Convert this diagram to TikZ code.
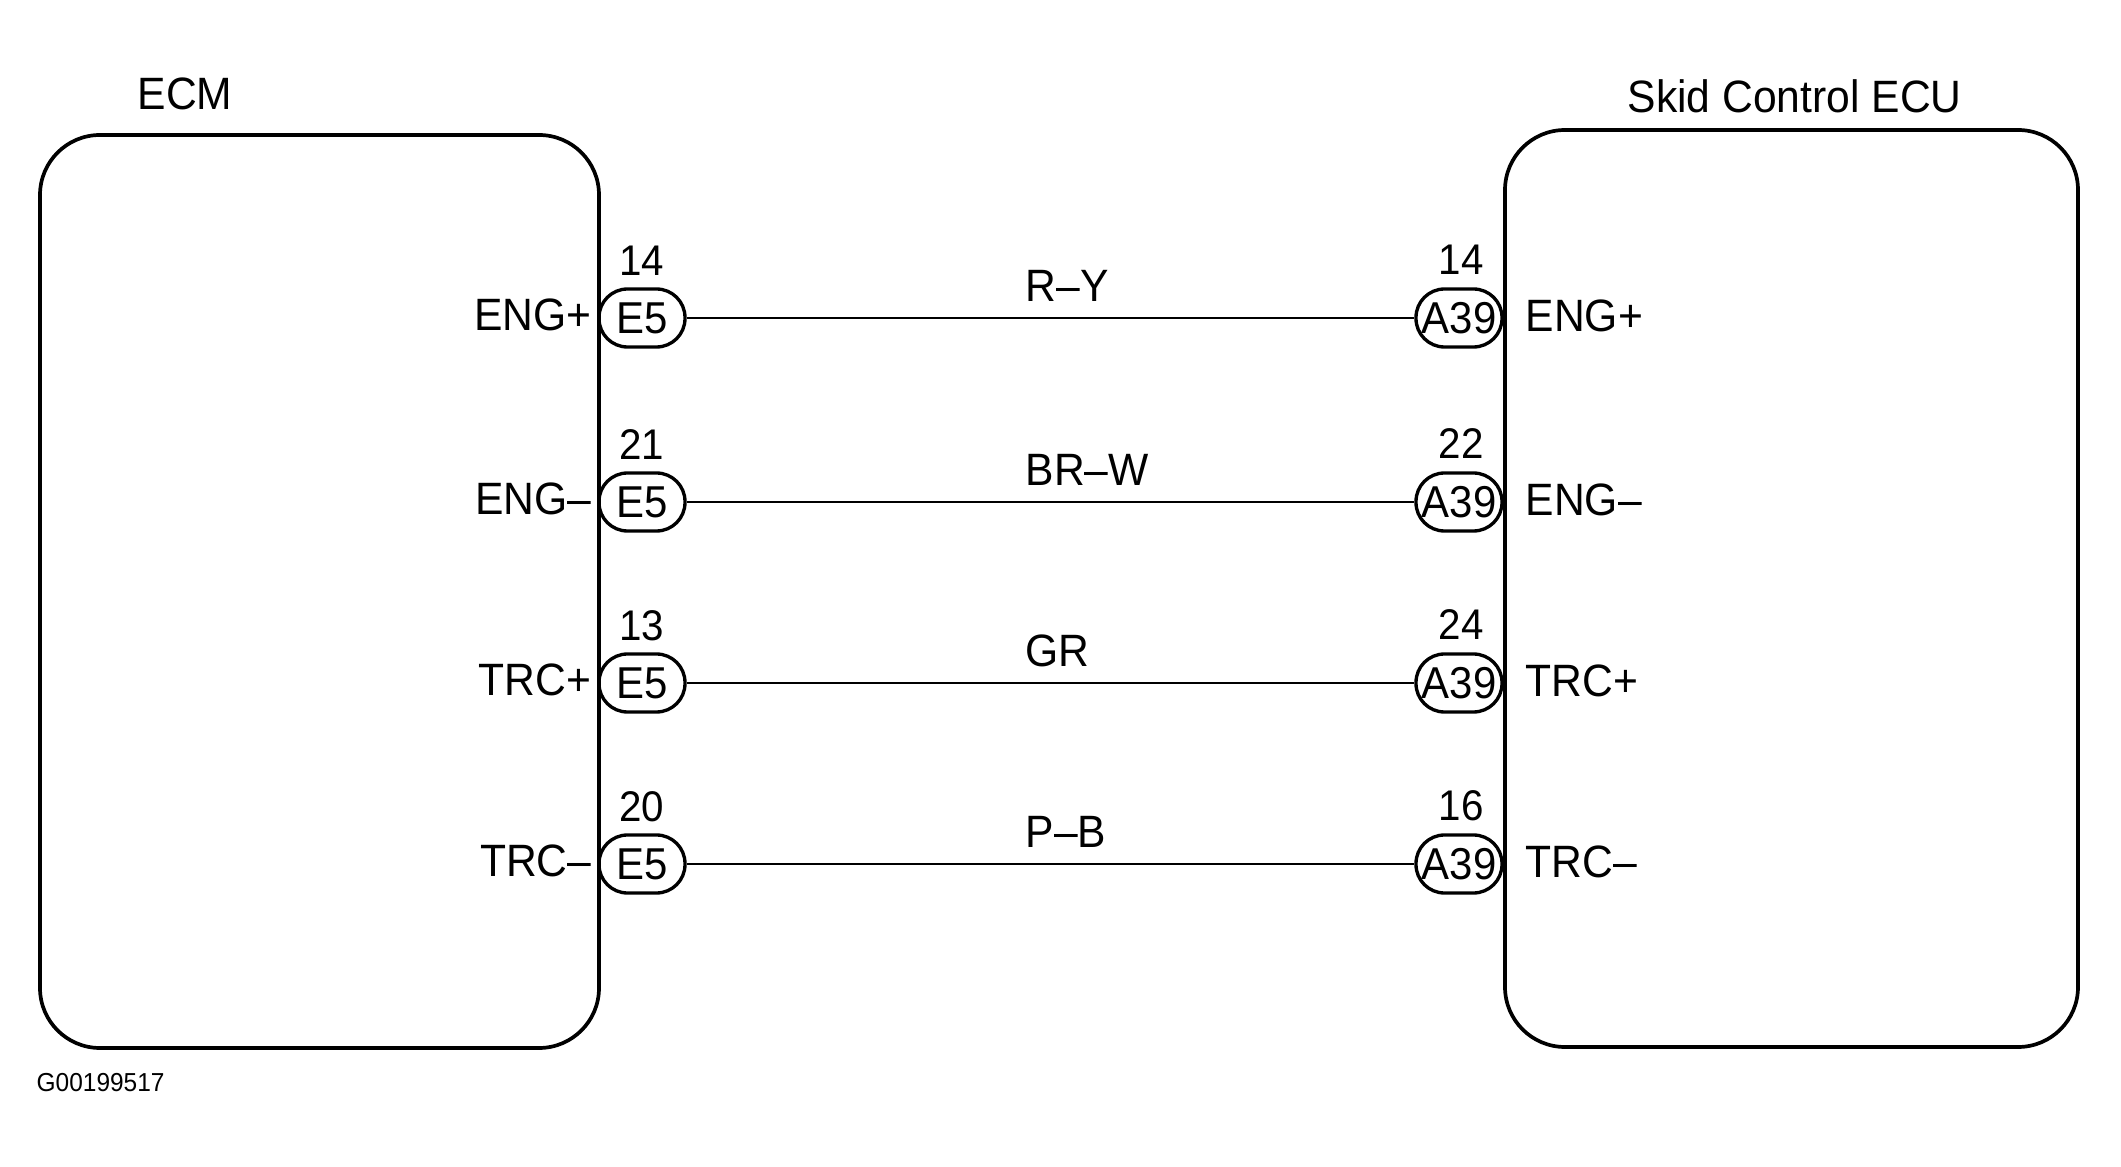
\documentclass[tikz,border=0pt]{standalone}
\usepackage{fontspec}
\setmainfont{Liberation Sans}[FakeStretch=0.94]
\usetikzlibrary{positioning}

\begin{document}
\begin{tikzpicture}[
            ecu/.style={draw, line width=1.05pt, rounded corners=0.6cm, inner sep=0pt},
            plug/.style={draw, line width=0.95pt, rounded corners=0.285cm, minimum width=0.86cm, minimum height=0.58cm, inner sep=0pt, font=\fontsize{12.7}{14}\selectfont},
            pin/.style={inner sep=0pt, font=\fontsize{12.2}{14}\selectfont},
            sig/.style={inner sep=0pt, font=\fontsize{12.9}{14}\selectfont},
            wire/.style={line width=0.7pt}
        ]
            \useasboundingbox (0,0) rectangle (21.21,-11.67);

            % Control units
            \node[ecu, minimum width=5.59cm, minimum height=9.13cm] (ecm) at (3.195,-5.915) {};
            \node[ecu, minimum width=5.73cm, minimum height=9.17cm] (skid) at (17.915,-5.885) {};
            \node[sig, anchor=base west] (ecmtitle) at (1.37,-1.10) {ECM};
            \node[sig, anchor=base west] (skidtitle) at (16.27,-1.13) {Skid Control ECU};

            % Connectors, pins and wires
            \foreach \y/\lpin/\rpin/\name/\col [count=\i] in
                {-3.18/14/14/ENG+/R--Y, -5.02/21/22/ENG--/BR--W, -6.83/13/24/TRC+/GR, -8.64/20/16/TRC--/P--B}
            {
                \node[plug] (e\i) at (6.42,\y) {E5};
                \node[plug] (a\i) at (14.59,\y) {A39};
                \node[pin, anchor=base] (lp\i) at (6.42,\y+0.42) {\lpin};
                \node[pin, anchor=base] (rp\i) at (14.61,\y+0.43) {\rpin};
                \node[sig, anchor=base east] (ls\i) at (5.92,\y-0.13) {\name};
                \node[sig, anchor=base west] (rs\i) at (15.25,\y-0.14) {\name};
                \node[sig, anchor=base west] (w\i) at (10.25,\y+0.16) {\col};
                \draw[wire] (e\i) -- (a\i);
            }

            % Figure number
            \node[inner sep=0pt, anchor=base west, font=\fontsize{7.4}{9}\selectfont] (figid) at (0.36,-10.91) {G00199517};
        \end{tikzpicture}
\end{document}
